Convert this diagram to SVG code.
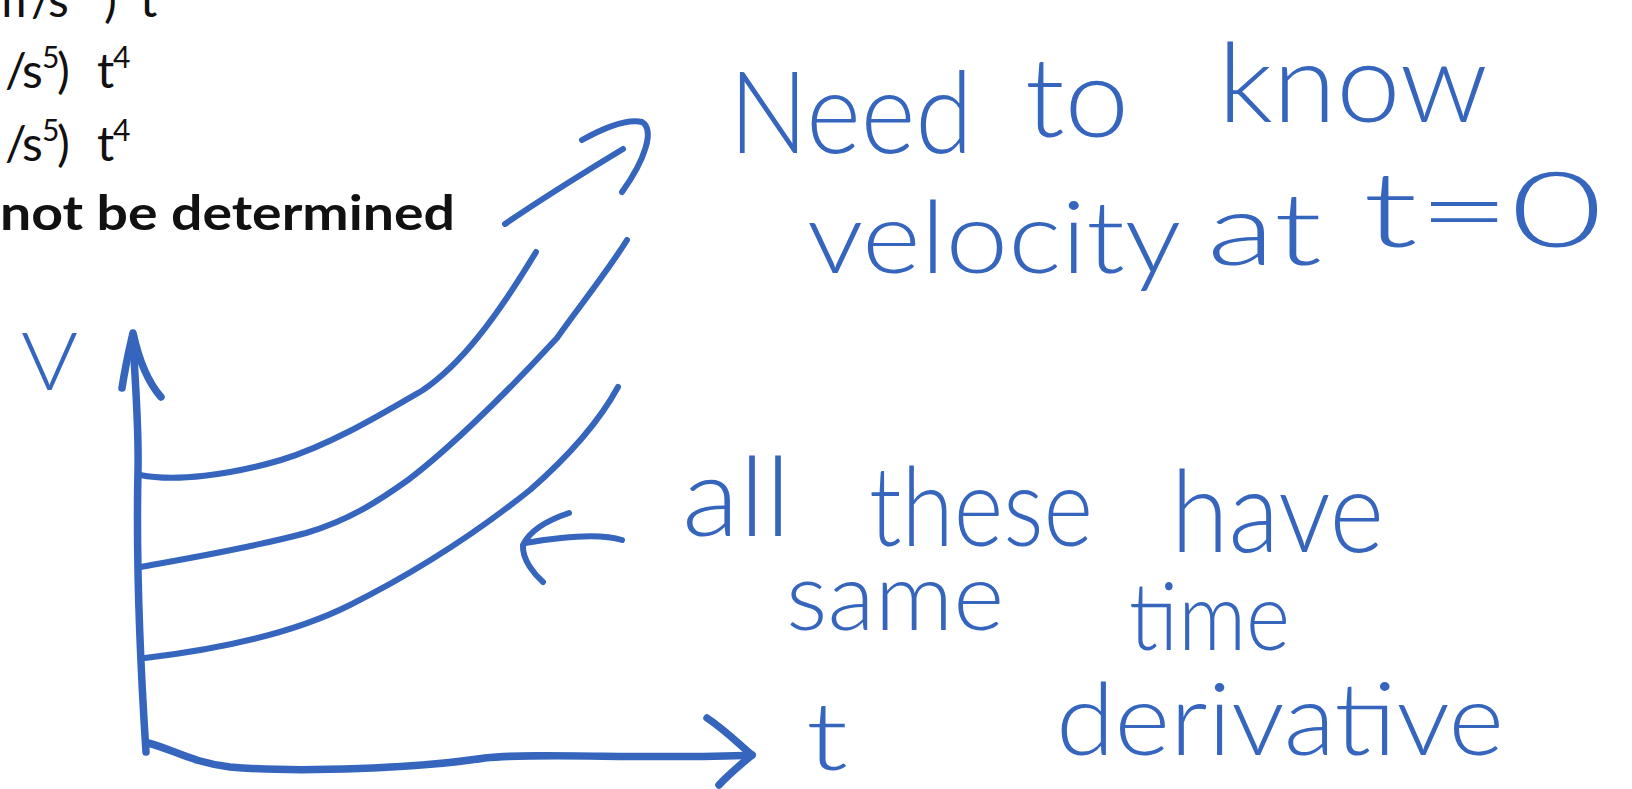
<svg xmlns="http://www.w3.org/2000/svg" width="1632" height="789" viewBox="0 0 1632 789">
<style>
.ink{fill:none;stroke:#3565BD;stroke-width:6;stroke-linecap:round;stroke-linejoin:round}
.thick{stroke-width:7.5}
.hw{font-family:Lato,"Open Sans","Liberation Sans",sans-serif;font-weight:300;fill:#3565BD}
.pt{font-family:Lato,"Open Sans","Liberation Sans",sans-serif;fill:#111;font-size:48px}
.sup{font-size:30px}
</style>
<rect width="1632" height="789" fill="#fff"/>
<g id="answers">
<text class="pt" y="17"><tspan x="-13">m</tspan><tspan x="31">/</tspan><tspan x="48">s</tspan><tspan x="72" dy="-18" class="sup">2</tspan><tspan x="104" dy="18">)</tspan><tspan x="140">t</tspan><tspan x="157" dy="-18" class="sup">2</tspan></text>
<text class="pt" y="88"><tspan x="-37">m</tspan><tspan x="5">/</tspan><tspan x="22">s</tspan><tspan x="42" dy="-20" class="sup">5</tspan><tspan x="57" dy="20">)</tspan><tspan x="97">t</tspan><tspan x="113" dy="-20" class="sup">4</tspan></text>
<text class="pt" y="161"><tspan x="-37">m</tspan><tspan x="5">/</tspan><tspan x="22">s</tspan><tspan x="42" dy="-20" class="sup">5</tspan><tspan x="57" dy="20">)</tspan><tspan x="97">t</tspan><tspan x="113" dy="-20" class="sup">4</tspan></text>
<text class="pt" x="0" y="230" font-weight="bold" textLength="455" lengthAdjust="spacingAndGlyphs">not be determined</text>
</g>
<g id="connectors">
<path class="ink thick" d="M146,752 C140,660 136,560 138,470 C139,420 134,370 133,335"/>
<path class="ink thick" d="M122,388 C126,362 130,346 133,333 C138,356 146,380 161,397"/>
<path class="ink thick" d="M148,743 C175,750 190,762 230,767 C300,773 420,768 485,758 C540,752 650,760 752,755"/>
<path class="ink thick" d="M707,718 C725,730 740,745 752,755 C740,765 728,775 719,785"/>
<path class="ink" d="M140,475 C175,482 230,475 281,460 C330,445 380,415 423,390 C460,365 495,320 536,252"/>
<path class="ink" d="M140,567 C190,558 250,548 306,533 C350,520 380,500 408,480 C445,452 500,400 557,338 C575,312 605,275 627,240"/>
<path class="ink" d="M145,658 C230,648 300,630 350,605 C420,570 480,530 530,490 C570,455 600,420 618,387"/>
<path class="ink" d="M505,224 C540,200 580,175 623,149"/>
<path class="ink" d="M582,140 C600,130 625,118 642,122 C655,130 645,160 622,192"/>
<path class="ink" d="M622,540 C600,533 560,537 525,543"/>
<path class="ink" d="M569,513 C548,520 530,530 523,545 C522,560 535,575 543,582"/>
</g>
<g id="label-v"><text class="hw" x="21" y="390" font-size="80" textLength="57" lengthAdjust="spacingAndGlyphs">V</text></g>
<g id="label-t"><text class="hw" x="806" y="770" font-size="95" textLength="42" lengthAdjust="spacingAndGlyphs">t</text></g>
<g id="note-need">
<text class="hw" x="729" y="153" font-size="115" textLength="244" lengthAdjust="spacingAndGlyphs">Need</text>
<text class="hw" x="1025" y="137" font-size="110" textLength="104" lengthAdjust="spacingAndGlyphs">to</text>
<text class="hw" x="1218" y="122" font-size="110" textLength="270" lengthAdjust="spacingAndGlyphs">know</text>
<text class="hw" x="807" y="273" font-size="100" textLength="374" lengthAdjust="spacingAndGlyphs">velocity</text>
<text class="hw" x="1207" y="265" font-size="100" textLength="115" lengthAdjust="spacingAndGlyphs">at</text>
<text class="hw" x="1363" y="247" font-size="105" textLength="240" lengthAdjust="spacingAndGlyphs">t=0</text>
</g>
<g id="note-same">
<text class="hw" x="682" y="536" font-size="110" textLength="109" lengthAdjust="spacingAndGlyphs">all</text>
<text class="hw" x="869" y="546" font-size="110" textLength="224" lengthAdjust="spacingAndGlyphs">these</text>
<text class="hw" x="1171" y="552" font-size="115" textLength="213" lengthAdjust="spacingAndGlyphs">have</text>
<text class="hw" x="786" y="630" font-size="95" textLength="218" lengthAdjust="spacingAndGlyphs">same</text>
<text class="hw" x="1129" y="650" font-size="95" textLength="161" lengthAdjust="spacingAndGlyphs">time</text>
<text class="hw" x="1056" y="755" font-size="100" textLength="448" lengthAdjust="spacingAndGlyphs">derivative</text>
</g>
</svg>
